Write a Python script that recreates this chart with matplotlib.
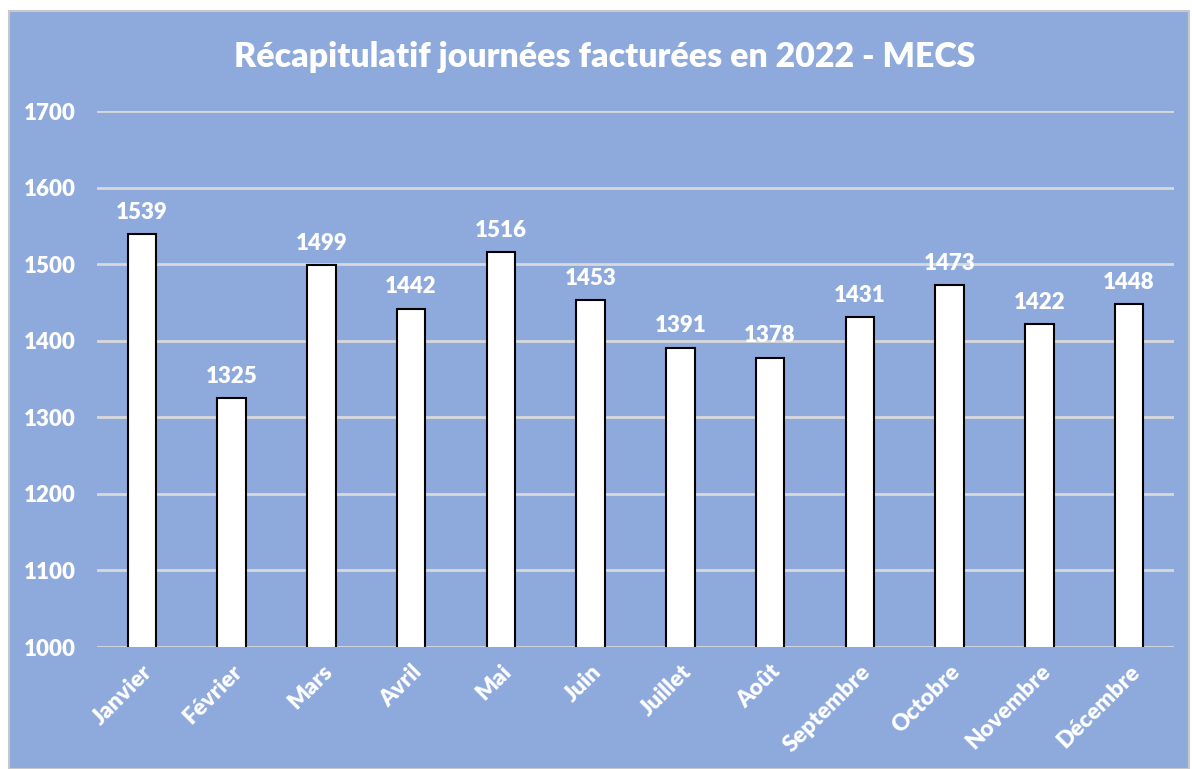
import matplotlib
matplotlib.use("Agg")
import matplotlib.pyplot as plt
from matplotlib.patches import Rectangle

months = ["Janvier", "Février", "Mars", "Avril", "Mai", "Juin", "Juillet",
          "Août", "Septembre", "Octobre", "Novembre", "Décembre"]
values = [1539, 1325, 1499, 1442, 1516, 1453, 1391, 1378, 1431, 1473, 1422, 1448]
yticks = [1000, 1100, 1200, 1300, 1400, 1500, 1600, 1700]
title = "Récapitulatif journées facturées en 2022 - MECS"

BG = "#8EAADC"
GRID = "#D9D9D9"
FONT = ["Lato", "DejaVu Sans"]
FS = 16

fig = plt.figure(figsize=(11.92, 7.69), dpi=100, facecolor="white")
fig.patches.append(Rectangle((9 / 1192, 0), 1 - 9 / 1192 - 3 / 1192, 1 - 11 / 769,
                             transform=fig.transFigure, facecolor=BG,
                             edgecolor="#C8C8C8", linewidth=1.5, zorder=-5))

ax = fig.add_axes([97 / 1192, 1 - 647 / 769, (1174 - 97) / 1192, (647 - 111) / 769])
ax.set_zorder(2)
ax.set_facecolor("none")
x = list(range(len(months)))
bars = ax.bar(x, values, width=0.32, bottom=0, color="white", edgecolor="black",
              linewidth=1.5, zorder=3)
ax.set_ylim(1000, 1700)
ax.set_xlim(-0.5, len(months) - 0.5)
ax.set_yticks(yticks)
ax.set_yticklabels([str(t) for t in yticks], fontfamily=FONT, fontweight="heavy",
                   fontsize=FS, color="white")
ax.set_xticks(x)
ax.set_xticklabels(months, rotation=45, ha="right", va="top", rotation_mode="anchor",
                   fontfamily=FONT, fontweight="heavy", fontsize=16.5, color="white")
ax.tick_params(axis="y", length=0, pad=15)
ax.tick_params(axis="x", length=0, pad=10)
for s in ax.spines.values():
    s.set_visible(False)
ax.yaxis.grid(True, color=GRID, linewidth=2, zorder=0)
ax.set_axisbelow(True)

for xi, v in zip(x, values):
    ax.annotate(str(v), (xi, v), xytext=(0, 8), textcoords="offset points",
                ha="center", va="bottom", fontfamily=FONT, fontweight="heavy",
                fontsize=FS, color="white", zorder=4)

fig.text(605 / 1192, 1 - 57 / 769, title, ha="center", va="center",
         fontfamily=FONT, fontweight="heavy", fontsize=24.4, color="white")

fig.savefig("out.png", dpi=100, facecolor="white")
